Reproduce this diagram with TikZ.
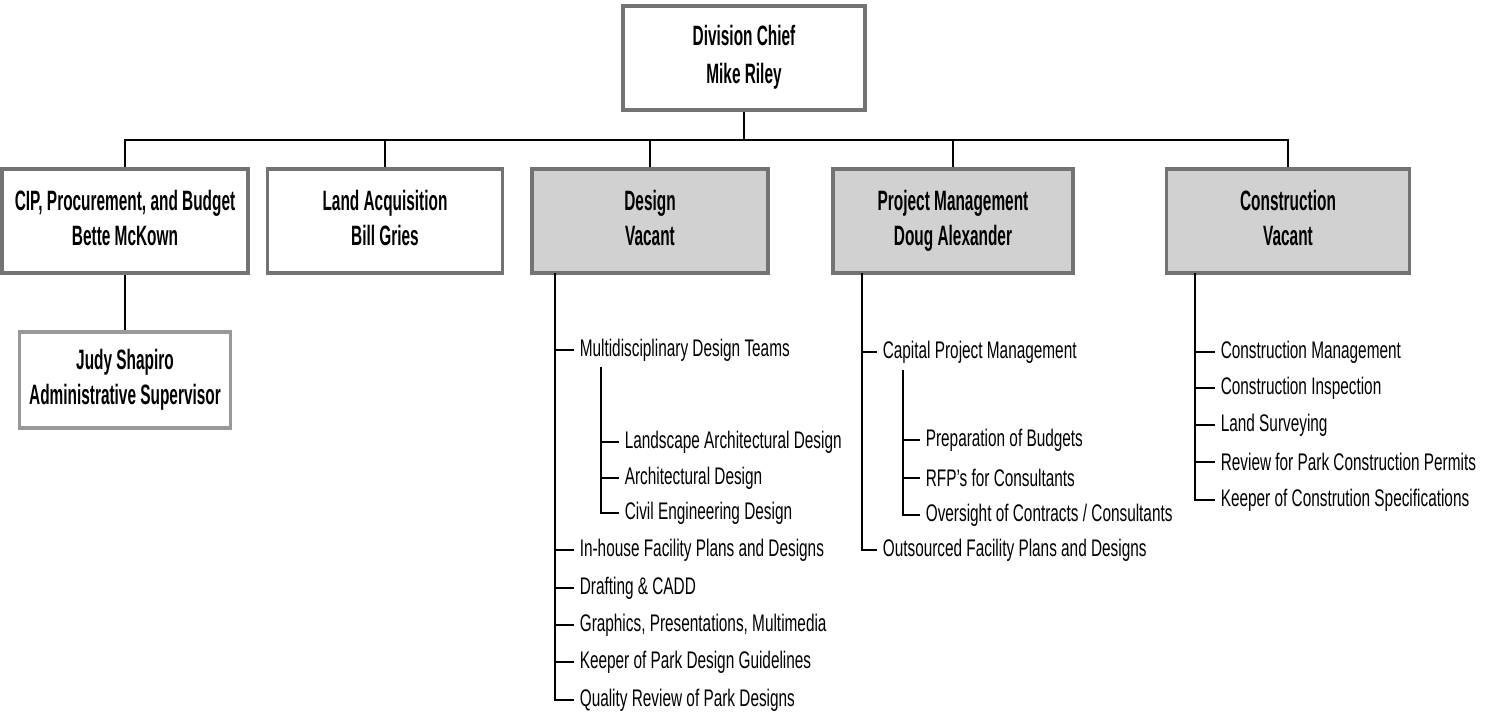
\documentclass[tikz,border=0pt]{standalone}
\usepackage{fontspec}
\setmainfont{Liberation Sans}[FakeStretch=0.64]
\newfontfamily\unitfont{Liberation Sans}[FakeStretch=0.55]

\begin{document}
\begin{tikzpicture}[x=1pt,y=-1pt,line width=1.6pt,
  unit/.style={draw=black!55,line width=3.5pt,fill=white,align=center,minimum height=104pt,
    font=\unitfont\bfseries\fontsize{28}{35}\selectfont,
    execute at begin node={\rule{0pt}{45pt}},execute at end node={\rule[-7pt]{0pt}{7pt}}},
  shaded/.style={fill=black!18},
  item/.style={anchor=west,inner xsep=5pt,inner ysep=0pt,font=\fontsize{24}{24}\selectfont}]

      \useasboundingbox (0,0) rectangle (1490,715);

      \node[unit,minimum width=242pt,font=\unitfont\bfseries\fontsize{28}{38}\selectfont] (chief) at (744,58) {Division Chief\\Mike Riley};
      \node[unit,minimum width=246pt]        (cip)    at (125,221) {CIP, Procurement, and Budget\\Bette McKown};
      \node[unit,minimum width=235pt]        (land)   at (385,221) {Land Acquisition\\Bill Gries};
      \node[unit,shaded,minimum width=236pt] (design) at (650,221) {Design\\Vacant};
      \node[unit,shaded,minimum width=240pt] (pm)     at (953,221) {Project Management\\Doug Alexander};
      \node[unit,shaded,minimum width=243pt] (constr) at (1288,221) {Construction\\Vacant};
      \node[unit,draw=black!40,minimum width=211pt,minimum height=96pt] (judy) at (125,380) {Judy Shapiro\\Administrative Supervisor};

      \coordinate (bus) at (744,140);
      \draw (chief) -- (bus);
      \foreach \n in {cip,land,design,pm,constr}
        \draw (\n) |- (bus);
      \draw (cip.south) -- (judy.north);

      % design
      \node[item] (d1)  at (574,350) {Multidisciplinary Design Teams};
      \node[item] (d1a) at (619,442) {Landscape Architectural Design};
      \node[item] (d1b) at (619,478) {Architectural Design};
      \node[item] (d1c) at (619,513) {Civil Engineering Design};
      \node[item] (d2)  at (574,550) {In-house Facility Plans and Designs};
      \node[item] (d3)  at (574,588) {Drafting \& CADD};
      \node[item] (d4)  at (574,625) {Graphics, Presentations, Multimedia};
      \node[item] (d5)  at (574,662) {Keeper of Park Design Guidelines};
      \node[item] (d6)  at (574,700) {Quality Review of Park Designs};
      \coordinate (dsp) at (555,273);
      \coordinate (dsub) at (601,367);
      \draw (dsp) |- (d6.west);
      \foreach \i in {d1,d2,d3,d4,d5}
        \draw (dsp |- \i.west) -- (\i.west);
      \draw (dsub) |- (d1c.west);
      \foreach \i in {d1a,d1b}
        \draw (dsub |- \i.west) -- (\i.west);

      % project management
      \node[item] (p1)  at (877,352) {Capital Project Management};
      \node[item] (p1a) at (920,440) {Preparation of Budgets};
      \node[item] (p1b) at (920,478) {RFP's for Consultants};
      \node[item] (p1c) at (920,515) {Oversight of Contracts / Consultants};
      \node[item] (p2)  at (877,550) {Outsourced Facility Plans and Designs};
      \coordinate (psp) at (862,273);
      \coordinate (psub) at (903,370);
      \draw (psp) |- (p2.west);
      \draw (psp |- p1.west) -- (p1.west);
      \draw (psub) |- (p1c.west);
      \foreach \i in {p1a,p1b}
        \draw (psub |- \i.west) -- (\i.west);

      % construction
      \node[item] (c1) at (1215,352) {Construction Management};
      \node[item] (c2) at (1215,388) {Construction Inspection};
      \node[item] (c3) at (1215,425) {Land Surveying};
      \node[item] (c4) at (1215,462) {Review for Park Construction Permits};
      \node[item] (c5) at (1215,500) {Keeper of Constrution Specifications};
      \coordinate (csp) at (1195,273);
      \draw (csp) |- (c5.west);
      \foreach \i in {c1,c2,c3,c4}
        \draw (csp |- \i.west) -- (\i.west);
    \end{tikzpicture}
\end{document}
